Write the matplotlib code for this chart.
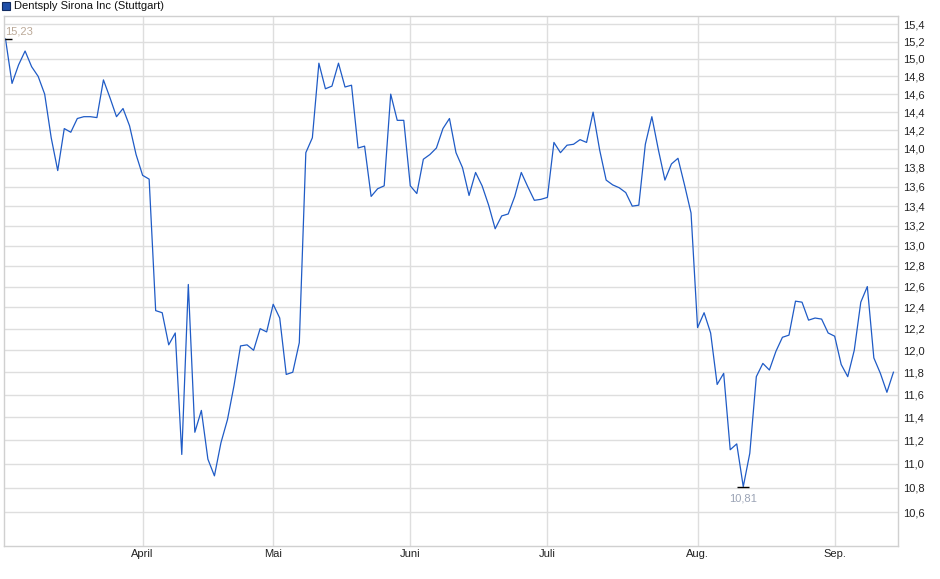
import numpy as np
import pandas as pd
import matplotlib
matplotlib.use('Agg')
import matplotlib.pyplot as plt
import matplotlib.ticker as mticker
from matplotlib.patches import Rectangle

plt.rcParams['font.family'] = ['Liberation Sans', 'DejaVu Sans']

title = 'Dentsply Sirona Inc (Stuttgart)'

# trading days of the Stuttgart exchange, Mar 3 - Sep 12 2025
holidays = ['2025-04-18', '2025-04-21', '2025-05-01']
dates = pd.bdate_range('2025-03-03', '2025-09-12')
dates = dates[~dates.isin(pd.to_datetime(holidays))]

prices = [
    15.23, 14.72, 14.93, 15.09, 14.91, 14.80, 14.60, 14.12, 13.77, 14.22,
    14.18, 14.33, 14.35, 14.35, 14.34, 14.76, 14.56, 14.35, 14.44, 14.25,
    13.94, 13.72, 13.68, 12.37, 12.35, 12.05, 12.16, 11.08, 12.62, 11.27,
    11.46, 11.04, 10.90, 11.18, 11.38, 11.68, 12.04, 12.05, 12.00, 12.20,
    12.17, 12.43, 12.30, 11.78, 11.80, 12.07, 13.96, 14.12, 14.95, 14.66,
    14.69, 14.95, 14.68, 14.70, 14.01, 14.03, 13.50, 13.58, 13.61, 14.60,
    14.31, 14.31, 13.61, 13.53, 13.89, 13.94, 14.01, 14.22, 14.33, 13.96,
    13.80, 13.51, 13.75, 13.61, 13.41, 13.17, 13.30, 13.32, 13.50, 13.75,
    13.60, 13.46, 13.47, 13.49, 14.07, 13.96, 14.04, 14.05, 14.10, 14.07,
    14.40, 13.99, 13.67, 13.62, 13.59, 13.54, 13.40, 13.41, 14.05, 14.35,
    13.99, 13.67, 13.84, 13.90, 13.62, 13.33, 12.21, 12.35, 12.16, 11.69,
    11.79, 11.12, 11.17, 10.81, 11.09, 11.76, 11.88, 11.82, 11.99, 12.12,
    12.14, 12.46, 12.45, 12.28, 12.30, 12.29, 12.16, 12.13, 11.87, 11.76,
    12.00, 12.45, 12.60, 11.93, 11.79, 11.62, 11.80,
]

month_names = ['April', 'Mai', 'Juni', 'Juli', 'Aug.', 'Sep.']
y_ticks = [10.6, 10.8, 11.0, 11.2, 11.4, 11.6, 11.8, 12.0, 12.2, 12.4, 12.6,
           12.8, 13.0, 13.2, 13.4, 13.6, 13.8, 14.0, 14.2, 14.4, 14.6, 14.8,
           15.0, 15.2, 15.4]

prices = np.array(prices)
x = np.arange(len(prices))
months = pd.Series(dates.month)
month_idx = [int(months[months == m].index[0]) for m in range(4, 10)]

line_color = '#1f5bc6'
grid_color = '#dedede'

fig = plt.figure(figsize=(9.4, 5.79), dpi=100)
ax = fig.add_axes([4 / 940, (579 - 546) / 579, 894 / 940, (546 - 16) / 579])

ax.set_yscale('log')
ax.set_ylim(10.33, 15.50)
ax.set_xlim(-0.23, 136.7)

ax.yaxis.set_major_locator(mticker.FixedLocator(y_ticks))
ax.yaxis.set_minor_locator(mticker.NullLocator())
ax.yaxis.set_major_formatter(mticker.FuncFormatter(lambda v, p: f'{v:.1f}'.replace('.', ',')))
ax.yaxis.tick_right()
ax.tick_params(axis='y', length=0, pad=3.5, labelsize=8, labelcolor='#222222')

ax.xaxis.set_major_locator(mticker.FixedLocator(month_idx))
ax.xaxis.set_major_formatter(mticker.FixedFormatter(month_names))
ax.xaxis.set_minor_locator(mticker.NullLocator())
ax.tick_params(axis='x', length=0, pad=2, labelsize=8, labelcolor='#222222')

ax.grid(True, color=grid_color, linewidth=1.0)
ax.set_axisbelow(True)
for side in ['left', 'right', 'top', 'bottom']:
    ax.spines[side].set_color('#d0d0d0')
    ax.spines[side].set_linewidth(1.0)

ax.plot(x, prices, color=line_color, linewidth=0.9)

# max / min markers
i_max = int(np.argmax(prices))
i_min = int(np.argmin(prices))
ax.plot([x[i_max]], [prices[i_max]], marker='_', markersize=9, color='black', markeredgewidth=1.0)
ax.plot([x[i_min]], [prices[i_min]], marker='_', markersize=9, color='black', markeredgewidth=1.0)
ax.annotate(f'{prices[i_max]:.2f}'.replace('.', ','), (x[i_max], prices[i_max]),
            xytext=(0, 2), textcoords='offset points', ha='left', va='bottom',
            fontsize=8, color='#bba998')
ax.annotate(f'{prices[i_min]:.2f}'.replace('.', ','), (x[i_min], prices[i_min]),
            xytext=(0, -5), textcoords='offset points', ha='center', va='top',
            fontsize=8, color='#9aa3b5')

# title with legend square
fig.patches.append(Rectangle((2 / 940, 1 - 10 / 579), 8 / 940, 8 / 579,
                             transform=fig.transFigure, facecolor='#1f4fa8',
                             edgecolor='#102a60', linewidth=0.8))
fig.text(14 / 940, 1 - 6 / 579, title, ha='left', va='center', fontsize=8, color='#111111')

fig.savefig('out.png', dpi=100)
